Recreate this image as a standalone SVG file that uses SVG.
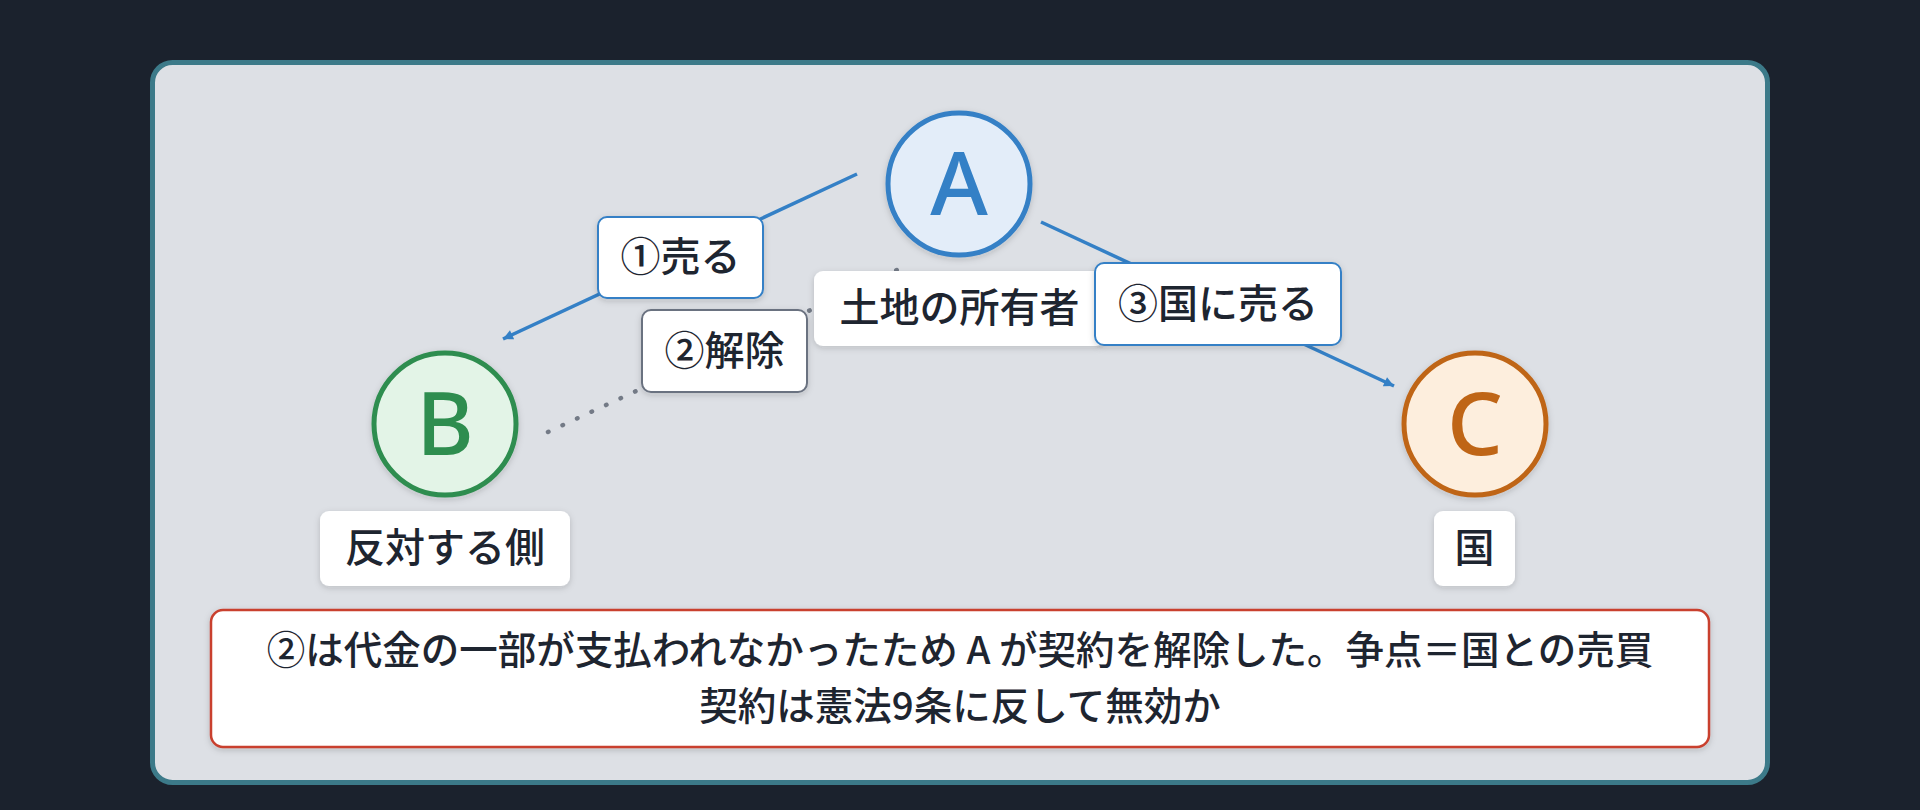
<svg xmlns="http://www.w3.org/2000/svg" width="1920" height="810" viewBox="0 0 1920 810">
  <style>
    .jp { font-family: "Noto Sans CJK JP", "Noto Sans", sans-serif; fill: #1e2530; }
    .lbl { font-size: 40px; font-weight: 500; text-anchor: middle; }
    .note { font-size: 38.5px; font-weight: 500; text-anchor: middle; }
    .letter { font-family: "Noto Sans", "Liberation Sans", sans-serif; font-size: 88px; font-weight: 500; text-anchor: middle; }
    .box { fill: #ffffff; }
    .edge { fill: none; stroke: #3480c6; stroke-width: 3.5; }
  </style>
  <defs>
    <filter id="sh" x="-20%" y="-20%" width="140%" height="150%">
      <feDropShadow dx="0" dy="2" stdDeviation="3" flood-color="#1c2330" flood-opacity="0.18"/>
    </filter>
    <marker id="arr" viewBox="0 0 10 10" refX="10" refY="5" markerUnits="userSpaceOnUse" markerWidth="14" markerHeight="10" orient="auto">
      <path d="M0,0 L10,5 L0,10 z" fill="#3480c6"/>
    </marker>
  </defs>

  <rect x="0" y="0" width="1920" height="810" fill="#1b222d"/>
  <rect x="152.5" y="62.5" width="1615" height="720" rx="20" ry="20" fill="#dde0e5" stroke="#3c7a89" stroke-width="5"/>

  <g id="connectors">
    <line class="edge" x1="857" y1="174" x2="503" y2="339" marker-end="url(#arr)"/>
    <line x1="548" y1="432" x2="901" y2="268" stroke="#737a86" stroke-width="4.5" stroke-linecap="round" stroke-dasharray="0.5 15.5" fill="none"/>
    <line class="edge" x1="1041" y1="222" x2="1394" y2="386" marker-end="url(#arr)"/>
  </g>

  <g id="node-A">
    <circle cx="959" cy="184" r="71" fill="#e3edf9" stroke="#3480c6" stroke-width="5" filter="url(#sh)"/>
    <text class="letter" x="959" y="215" fill="#3480c6">A</text>
    <rect class="box" x="814" y="271" width="291" height="75" rx="9" filter="url(#sh)"/>
    <text class="jp lbl" x="959.5" y="322">土地の所有者</text>
  </g>

  <g id="node-B">
    <circle cx="445" cy="424" r="71" fill="#e3f4e7" stroke="#2e8d4f" stroke-width="5" filter="url(#sh)"/>
    <text class="letter" x="445" y="455" fill="#2e8d4f">B</text>
    <rect class="box" x="320" y="511" width="250" height="75" rx="9" filter="url(#sh)"/>
    <text class="jp lbl" x="445" y="562">反対する側</text>
  </g>

  <g id="node-C">
    <circle cx="1475" cy="424" r="71" fill="#fdeedd" stroke="#bf6516" stroke-width="5" filter="url(#sh)"/>
    <text class="letter" x="1475" y="455" fill="#bf6516">C</text>
    <rect class="box" x="1434" y="511" width="81" height="75" rx="9" filter="url(#sh)"/>
    <text class="jp lbl" x="1474.5" y="562">国</text>
  </g>

  <g id="label-1">
    <rect class="box" x="598" y="217" width="165" height="81" rx="9" stroke="#3480c6" stroke-width="2" filter="url(#sh)"/>
    <text class="jp lbl" x="680.5" y="271">①売る</text>
  </g>

  <g id="label-2">
    <rect class="box" x="642" y="310" width="165" height="82" rx="9" stroke="#6b7280" stroke-width="2" filter="url(#sh)"/>
    <text class="jp lbl" x="724.5" y="365">②解除</text>
  </g>

  <g id="label-3">
    <rect class="box" x="1095" y="263" width="246" height="82" rx="9" stroke="#3480c6" stroke-width="2" filter="url(#sh)"/>
    <text class="jp lbl" x="1218" y="318">③国に売る</text>
  </g>

  <g id="note">
    <rect class="box" x="211" y="610" width="1498" height="137" rx="12" stroke="#c9402e" stroke-width="2.5" filter="url(#sh)"/>
    <text class="jp note" x="960" y="664">②は代金の一部が支払われなかったため A が契約を解除した。争点＝国との売買</text>
    <text class="jp note" x="960" y="720">契約は憲法9条に反して無効か</text>
  </g>
</svg>
